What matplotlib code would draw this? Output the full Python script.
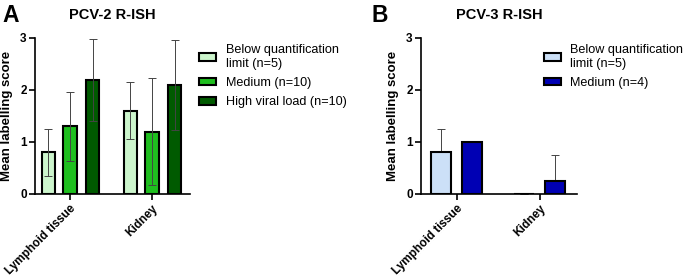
import numpy as np
import matplotlib.pyplot as plt
from matplotlib.patches import Patch

plt.rcParams['font.family'] = ['Liberation Sans', 'DejaVu Sans']

tissues = ['Lymphoid tissue', 'Kidney']

# PCV-2 panel
pcv2_groups = ['Below quantification\nlimit (n=5)', 'Medium (n=10)', 'High viral load (n=10)']
pcv2_means = [[0.8, 1.6], [1.3, 1.2], [2.2, 2.1]]
pcv2_sd = [[0.45, 0.55], [0.67, 1.03], [0.79, 0.87]]
pcv2_colors = ['#ccf5cc', '#1fbf1f', '#005a00']

# PCV-3 panel
pcv3_groups = ['Below quantification\nlimit (n=5)', 'Medium (n=4)']
pcv3_means = [[0.8, 0.0], [1.0, 0.25]]
pcv3_sd = [[0.45, 0.0], [0.0, 0.5]]
pcv3_colors = ['#cce0f7', '#0000b4']

fig = plt.figure(figsize=(6.85, 2.79), dpi=100)
axA = fig.add_axes([0.0511, 0.3047, 0.2263, 0.5591])
axB = fig.add_axes([0.6146, 0.3047, 0.2277, 0.5591])


def style_axis(ax):
    ax.set_ylim(0, 3)
    ax.set_yticks([0, 1, 2, 3])
    ax.spines['top'].set_visible(False)
    ax.spines['right'].set_visible(False)
    for s in ['left', 'bottom']:
        ax.spines[s].set_linewidth(1.2)
        ax.spines[s].set_zorder(4)
    ax.tick_params(width=1.2, length=4, labelsize=8.5, pad=2)
    ax.set_xticks(range(len(tissues)))
    ax.set_xticklabels(tissues, rotation=45, ha='right', rotation_mode='anchor')
    for lab in ax.get_xticklabels() + ax.get_yticklabels():
        lab.set_fontweight('bold')
    ax.set_ylabel('Mean labelling score', fontsize=9.5, fontweight='bold', labelpad=5)


def add_legend(ax, colors, labels, x0):
    handles = [Patch(facecolor=c, edgecolor='black', linewidth=1.5) for c in colors]
    ax.legend(handles, labels, loc='upper left', bbox_to_anchor=(x0, 0.883),
              bbox_transform=fig.transFigure, frameon=False, fontsize=9.1,
              handlelength=1.35, handleheight=0.55, handletextpad=0.75, labelspacing=0.58)


x = np.arange(len(tissues))

# panel A
offsA = [-0.265, 0.0, 0.275]
wA = 0.165
for i in range(3):
    axA.bar(x + offsA[i], pcv2_means[i], wA, color=pcv2_colors[i], edgecolor='black',
            linewidth=1.5, zorder=2)
    axA.errorbar(x + offsA[i], pcv2_means[i], yerr=pcv2_sd[i], fmt='none',
                 ecolor='#444444', elinewidth=0.7, capsize=3, capthick=0.7, zorder=3)
axA.set_xlim(-0.427, 1.463)
style_axis(axA)
axA.set_title('PCV-2 R-ISH', fontsize=10.5, fontweight='bold', pad=13.5)
add_legend(axA, pcv2_colors, pcv2_groups, 0.2745)

# panel B
offsB = [-0.19, 0.18]
wB = 0.24
for i in range(2):
    axB.bar(x + offsB[i], pcv3_means[i], wB, color=pcv3_colors[i], edgecolor='black',
            linewidth=1.5, zorder=2)
    axB.errorbar(x + offsB[i], pcv3_means[i], yerr=[np.zeros(2), pcv3_sd[i]], fmt='none',
                 ecolor='#444444', elinewidth=0.7, capsize=3, capthick=0.7, zorder=1)
axB.set_xlim(-0.434, 1.446)
style_axis(axB)
axB.set_title('PCV-3 R-ISH', fontsize=10.5, fontweight='bold', pad=13.5)
add_legend(axB, pcv3_colors, pcv3_groups, 0.777)

fig.text(0.003, 0.985, 'A', fontsize=16.5, fontweight='bold', va='top', ha='left')
fig.text(0.543, 0.985, 'B', fontsize=16.5, fontweight='bold', va='top', ha='left')

fig.savefig('out.png', dpi=100)
